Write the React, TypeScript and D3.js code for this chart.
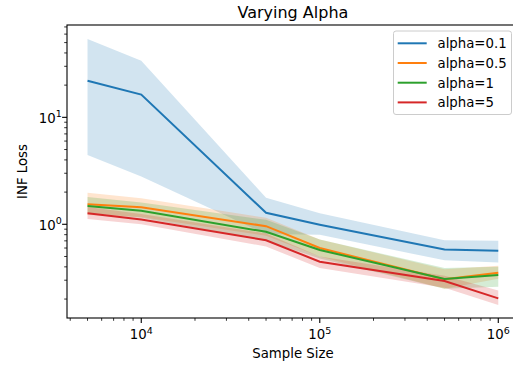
import React, { useEffect, useRef } from 'react';
import * as d3 from 'd3';

const sampleSizes = [5000, 10000, 50000, 100000, 500000, 1000000];

const alpha01 = [22, 16.3, 1.28, 0.99, 0.58, 0.567];
const alpha01Lo = [4.45, 2.8, 0.81, 0.8, 0.46, 0.44];
const alpha01Hi = [54, 33.8, 1.77, 1.27, 0.71, 0.7];

const alpha05 = [1.54, 1.44, 0.96, 0.6, 0.306, 0.353];
const alpha05Lo = [1.22, 1.17, 0.78, 0.5, 0.25, 0.31];
const alpha05Hi = [1.97, 1.75, 1.15, 0.72, 0.38, 0.41];

const alpha1 = [1.48, 1.34, 0.85, 0.575, 0.308, 0.336];
const alpha1Lo = [1.28, 1.15, 0.7, 0.48, 0.25, 0.26];
const alpha1Hi = [1.8, 1.6, 1.1, 0.72, 0.39, 0.4];

const alpha5 = [1.27, 1.11, 0.71, 0.447, 0.295, 0.203];
const alpha5Lo = [1.12, 1.0, 0.62, 0.39, 0.255, 0.176];
const alpha5Hi = [1.45, 1.25, 0.82, 0.5, 0.33, 0.24];

const seriesLabels = ['alpha=0.1', 'alpha=0.5', 'alpha=1', 'alpha=5'];
const colors = ['#1f77b4', '#ff7f0e', '#2ca02c', '#d62728'];

const xMajor = [1e4, 1e5, 1e6];
const xMajorExp = ['4', '5', '6'];
const yMajor = [1, 10];
const yMajorExp = ['0', '1'];

const FONT = 'DejaVu Sans, sans-serif';

const App = () => {
  const ref = useRef<SVGSVGElement>(null);

  useEffect(() => {
    const svg = d3.select(ref.current);
    svg.selectAll('*').remove();

    const left = 67, right = 518.8, top = 25, bottom = 318;

    const x = d3.scaleLog().domain([3837, 1303000]).range([left, right]);
    const y = d3.scaleLog().domain([0.133, 73]).range([bottom, top]);

    const series = [
      { mid: alpha01, lo: alpha01Lo, hi: alpha01Hi },
      { mid: alpha05, lo: alpha05Lo, hi: alpha05Hi },
      { mid: alpha1, lo: alpha1Lo, hi: alpha1Hi },
      { mid: alpha5, lo: alpha5Lo, hi: alpha5Hi },
    ];

    const area = d3.area<number>()
      .x((_, i) => x(sampleSizes[i]));
    const line = d3.line<number>()
      .x((_, i) => x(sampleSizes[i]))
      .y(d => y(d));

    series.forEach((s, k) => {
      svg.append('path')
        .datum(s.mid)
        .attr('d', area.y0((_, i) => y(s.lo[i])).y1((_, i) => y(s.hi[i])))
        .attr('fill', colors[k])
        .attr('fill-opacity', 0.2);
    });
    series.forEach((s, k) => {
      svg.append('path')
        .datum(s.mid)
        .attr('d', line)
        .attr('fill', 'none')
        .attr('stroke', colors[k])
        .attr('stroke-width', 2);
    });

    // spines
    svg.append('rect')
      .attr('x', left).attr('y', top)
      .attr('width', right - left).attr('height', bottom - top)
      .attr('fill', 'none').attr('stroke', 'black').attr('stroke-width', 1.1);

    // x ticks
    const xMinor: number[] = [];
    [1e3, 1e4, 1e5, 1e6].forEach(d => {
      for (let m = 2; m <= 9; m++) {
        const v = d * m;
        if (v >= 3837 && v <= 1303000) xMinor.push(v);
      }
    });
    xMinor.forEach(v => {
      svg.append('line')
        .attr('x1', x(v)).attr('x2', x(v))
        .attr('y1', bottom).attr('y2', bottom + 2.8)
        .attr('stroke', 'black').attr('stroke-width', 0.8);
    });
    xMajor.forEach((v, i) => {
      svg.append('line')
        .attr('x1', x(v)).attr('x2', x(v))
        .attr('y1', bottom).attr('y2', bottom + 4.9)
        .attr('stroke', 'black').attr('stroke-width', 1.1);
      const t = svg.append('text')
        .attr('x', x(v)).attr('y', 339.3)
        .attr('text-anchor', 'middle')
        .attr('font-family', FONT).attr('font-size', 13.3);
      t.append('tspan').text('10');
      t.append('tspan').attr('font-size', 9.5).attr('dy', -5.5).text(xMajorExp[i]);
    });

    // y ticks
    const yMinor: number[] = [];
    [0.1, 1, 10].forEach(d => {
      for (let m = 2; m <= 9; m++) {
        const v = d * m;
        if (v >= 0.133 && v <= 73) yMinor.push(v);
      }
    });
    yMinor.forEach(v => {
      svg.append('line')
        .attr('x1', left - 2.8).attr('x2', left)
        .attr('y1', y(v)).attr('y2', y(v))
        .attr('stroke', 'black').attr('stroke-width', 0.8);
    });
    yMajor.forEach((v, i) => {
      svg.append('line')
        .attr('x1', left - 4.9).attr('x2', left)
        .attr('y1', y(v)).attr('y2', y(v))
        .attr('stroke', 'black').attr('stroke-width', 1.1);
      const t = svg.append('text')
        .attr('x', 61.7).attr('y', y(v) + 5.5)
        .attr('text-anchor', 'end')
        .attr('font-family', FONT).attr('font-size', 13.3);
      t.append('tspan').text('10');
      t.append('tspan').attr('font-size', 9.5).attr('dy', -5.5).text(yMajorExp[i]);
    });

    // labels
    svg.append('text')
      .attr('x', (left + right) / 2).attr('y', 18)
      .attr('text-anchor', 'middle')
      .attr('font-family', FONT).attr('font-size', 16)
      .text('Varying Alpha');
    svg.append('text')
      .attr('x', (left + right) / 2).attr('y', 358)
      .attr('text-anchor', 'middle')
      .attr('font-family', FONT).attr('font-size', 13.3)
      .text('Sample Size');
    svg.append('text')
      .attr('transform', `translate(26.5,${(top + bottom) / 2}) rotate(-90)`)
      .attr('text-anchor', 'middle')
      .attr('font-family', FONT).attr('font-size', 13.3)
      .text('INF Loss');

    // legend
    const lg = svg.append('g');
    lg.append('rect')
      .attr('x', 393.5).attr('y', 31)
      .attr('width', 118).attr('height', 83.5)
      .attr('rx', 2.5)
      .attr('fill', 'white').attr('fill-opacity', 0.8)
      .attr('stroke', '#cccccc').attr('stroke-width', 1);
    seriesLabels.forEach((label, i) => {
      const ly = 43.3 + i * 19.7;
      lg.append('line')
        .attr('x1', 397.7).attr('x2', 426.7)
        .attr('y1', ly).attr('y2', ly)
        .attr('stroke', colors[i]).attr('stroke-width', 2);
      lg.append('text')
        .attr('x', 437.5).attr('y', ly + 4.8)
        .attr('font-family', FONT).attr('font-size', 13.3)
        .text(label);
    });
  }, []);

  return (
    <svg ref={ref} width={513} height={366}
      style={{ position: 'absolute', left: 0, top: 0, background: 'white' }} />
  );
};

export default App;
